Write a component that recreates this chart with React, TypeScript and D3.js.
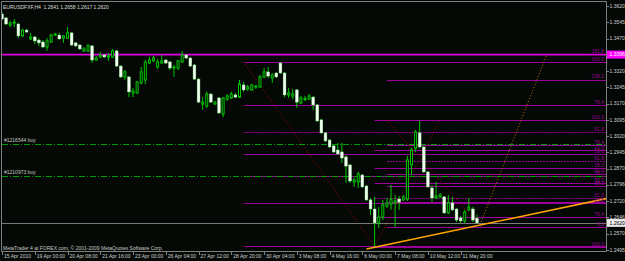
import React from 'react';
import * as d3 from 'd3';

const W = 625;
const H = 261;

const titleText = 'EURUSDFXF,H4  1.2641 1.2658 1.2617 1.2620';
const copyrightText = 'MetaTrader 4 at FOREX.com, © 2001-2009 MetaQuotes Software Corp.';

const opens = [1.3583,1.3565,1.3532,1.3542,1.3537,1.3482,1.3509,1.3468,1.3477,1.3463,1.3454,1.3431,1.3454,1.3486,1.3486,1.3472,1.3472,1.3496,1.3450,1.3440,1.3413,1.3413,1.3436,1.3371,1.3385,1.3394,1.3385,1.3385,1.3413,1.3343,1.3293,1.3293,1.3219,1.3219,1.3265,1.3279,1.3357,1.3367,1.3339,1.3357,1.3371,1.3362,1.3334,1.3334,1.3362,1.3394,1.3380,1.3348,1.3283,1.3168,1.3159,1.3214,1.3168,1.3196,1.3122,1.3191,1.3196,1.3210,1.3200,1.3256,1.3237,1.3233,1.3247,1.3247,1.3293,1.3316,1.3288,1.3311,1.3357,1.3311,1.3210,1.3205,1.3233,1.3173,1.3189,1.3191,1.3200,1.3164,1.3095,1.3035,1.3002,1.2975,1.2956,1.2947,1.2924,1.2887,1.2809,1.2809,1.2841,1.2790,1.2726,1.2684,1.2620,1.2647,1.2698,1.2707,1.2712,1.2730,1.2726,1.2730,1.2887,1.2965,1.3035,1.2970,1.2855,1.2781,1.2735,1.2740,1.2740,1.2666,1.2712,1.2684,1.2643,1.2629,1.2680,1.2684,1.2641];
const highs = [1.3592,1.3569,1.3551,1.3560,1.3542,1.3514,1.3514,1.3496,1.3482,1.3472,1.3463,1.3472,1.3491,1.3496,1.3496,1.3486,1.3523,1.3500,1.3454,1.3445,1.3431,1.3445,1.3440,1.3390,1.3408,1.3399,1.3403,1.3422,1.3417,1.3348,1.3325,1.3297,1.3242,1.3274,1.3339,1.3371,1.3385,1.3390,1.3376,1.3394,1.3376,1.3367,1.3348,1.3371,1.3413,1.3399,1.3385,1.3353,1.3288,1.3200,1.3224,1.3219,1.3182,1.3200,1.3200,1.3214,1.3224,1.3219,1.3279,1.3270,1.3256,1.3260,1.3256,1.3302,1.3334,1.3339,1.3311,1.3316,1.3362,1.3316,1.3242,1.3237,1.3237,1.3205,1.3205,1.3214,1.3205,1.3168,1.3099,1.3039,1.3007,1.2979,1.2989,1.2989,1.2933,1.2892,1.2827,1.2855,1.2846,1.2795,1.2735,1.2740,1.2693,1.2726,1.2735,1.2795,1.2749,1.2744,1.2749,1.2929,1.2965,1.3048,1.3090,1.2975,1.2859,1.2795,1.2809,1.2758,1.2744,1.2749,1.2740,1.2689,1.2652,1.2680,1.2735,1.2693,1.2658];
const lows = [1.3556,1.3532,1.3523,1.3523,1.3472,1.3477,1.3496,1.3463,1.3445,1.3436,1.3426,1.3413,1.3450,1.3482,1.3463,1.3450,1.3468,1.3436,1.3431,1.3417,1.3408,1.3408,1.3357,1.3367,1.3380,1.3380,1.3367,1.3380,1.3339,1.3288,1.3279,1.3200,1.3200,1.3214,1.3260,1.3260,1.3353,1.3362,1.3330,1.3353,1.3353,1.3325,1.3293,1.3325,1.3357,1.3376,1.3339,1.3279,1.3173,1.3141,1.3150,1.3173,1.3164,1.3122,1.3108,1.3182,1.3191,1.3196,1.3196,1.3224,1.3228,1.3228,1.3237,1.3242,1.3288,1.3288,1.3265,1.3288,1.3307,1.3200,1.3196,1.3191,1.3150,1.3168,1.3182,1.3187,1.3141,1.3085,1.3030,1.2993,1.2965,1.2942,1.2933,1.2896,1.2804,1.2804,1.2786,1.2781,1.2781,1.2721,1.2657,1.2509,1.2597,1.2633,1.2689,1.2680,1.2601,1.2680,1.2721,1.2721,1.2841,1.2947,1.2965,1.2850,1.2781,1.2716,1.2730,1.2735,1.2661,1.2661,1.2675,1.2624,1.2620,1.2620,1.2675,1.2624,1.2617];
const closes = [1.3560,1.3537,1.3542,1.3546,1.3482,1.3509,1.3500,1.3477,1.3459,1.3450,1.3431,1.3459,1.3486,1.3491,1.3468,1.3482,1.3496,1.3440,1.3436,1.3422,1.3422,1.3436,1.3371,1.3380,1.3394,1.3385,1.3390,1.3413,1.3343,1.3293,1.3316,1.3224,1.3228,1.3270,1.3316,1.3362,1.3371,1.3380,1.3362,1.3367,1.3357,1.3334,1.3339,1.3367,1.3394,1.3380,1.3343,1.3283,1.3177,1.3177,1.3214,1.3177,1.3177,1.3127,1.3196,1.3205,1.3214,1.3200,1.3260,1.3233,1.3247,1.3256,1.3251,1.3293,1.3316,1.3297,1.3302,1.3293,1.3311,1.3210,1.3219,1.3214,1.3177,1.3196,1.3193,1.3205,1.3164,1.3090,1.3035,1.2998,1.2970,1.2947,1.2938,1.2919,1.2882,1.2813,1.2818,1.2846,1.2786,1.2726,1.2684,1.2620,1.2647,1.2703,1.2712,1.2730,1.2721,1.2716,1.2740,1.2910,1.2956,1.3039,1.2970,1.2855,1.2786,1.2735,1.2744,1.2749,1.2666,1.2712,1.2680,1.2633,1.2629,1.2670,1.2693,1.2633,1.2620];

const priceTickLabels = ['1.3620','1.3545','1.3470','1.3320','1.3245','1.3170','1.3095','1.3020','1.2945','1.2870','1.2796','1.2720','1.2646','1.2570','1.2495'];

const dateLabels = ['15 Apr 2010','19 Apr 00:00','20 Apr 08:00','21 Apr 16:00','23 Apr 00:00','26 Apr 04:00','27 Apr 12:00','28 Apr 20:00','30 Apr 04:00','3 May 08:00','4 May 16:00','6 May 00:00','7 May 08:00','10 May 12:00','11 May 20:00'];
const dateBars = [0,8,16,24,32,40,48,56,64,72,80,88,96,104,112];

const retraceLevels = [0, 23.6, 38.2, 50, 61.8, 76.4, 100];
const expansionLevels = [0, 23.6, 38.2, 50, 61.8, 76.4, 100, 138.2, 161.8];
const fiboABars = [59, 91];
const fiboAPrices = [1.3362, 1.2512];
const fiboBBars = [91, 107];
const fiboBPrices = [1.2510, 1.3095];
const fiboCBars = [94, 117];
const fiboCPrices = [1.3093, 1.2601];

const hLinePrice = 1.3396;
const bidPrice = 1.2620;
const orderPrices = [1.2984, 1.2835];
const orderLabels = ['#1216544 buy', '#1210973 buy'];

const trendBars = [89, 115];
const trendPrices = [1.2500, 1.2603];
const projBars = [117, 133];
const projPrices = [1.2624, 1.3394];

const PL = 2, PR = 606, PT = 2, PB = 251;
const FONT = 'Liberation Sans, Arial, sans-serif';

export default function App() {
  const xS = d3.scaleLinear().domain([0, 116]).range([2, 477]);
  const yS = d3.scaleLinear().domain([1.2495, 1.3620]).range([250, 6]);

  const green = '#00c800';
  const fiboColor = '#9a009a';
  const fibos = [
    { bars: fiboABars, prices: fiboAPrices, levels: retraceLevels },
    { bars: fiboBBars, prices: fiboBPrices, levels: retraceLevels },
    { bars: fiboCBars, prices: fiboCPrices, levels: expansionLevels },
  ];

  const trendFn = d3.scaleLinear().domain(trendBars).range(trendPrices);
  const rightBar = xS.invert(PR);

  // level labels: where two coincide, the longer one covers the shorter (as drawn on top in the original)
  const allLabels: { y: number; t: string }[] = [];
  fibos.forEach((f) => {
    f.levels.forEach((lv) => {
      const p = f.prices[1] + (lv / 100) * (f.prices[0] - f.prices[1]);
      allLabels.push({ y: yS(p), t: lv.toFixed(1) });
    });
  });
  const shownLabels = allLabels.filter((a, i) =>
    !allLabels.some((b, j) => j !== i && Math.abs(b.y - a.y) < 1.6 &&
      (b.t.length > a.t.length || (b.t.length === a.t.length && j < i))));

  return (
    <svg width={W} height={H} style={{ position: 'fixed', left: 0, top: 0, background: '#050905' }}>
      <defs>
        <clipPath id="plot">
          <rect x={PL} y={PT} width={PR - PL} height={PB - PT} />
        </clipPath>
      </defs>
      <rect x={0} y={0} width={W} height={H} fill="#050905" />
      <g clipPath="url(#plot)">
        {fibos.map((f, fi) => (
          <g key={'f' + fi}>
            {f.levels.map((lv, li) => {
              const p = f.prices[1] + (lv / 100) * (f.prices[0] - f.prices[1]);
              const y = Math.round(yS(p)) + 0.5;
              return (
                <line key={li} x1={xS(f.bars[0])} x2={PR} y1={y} y2={y}
                  stroke={fiboColor} strokeWidth={1}
                  strokeDasharray={lv === 61.8 ? '2 1' : undefined} />
              );
            })}
            <line x1={xS(f.bars[0])} y1={yS(f.prices[0])} x2={xS(f.bars[1])} y2={yS(f.prices[1])}
              stroke="#a00000" strokeWidth={1} strokeDasharray="1 2" />
          </g>
        ))}
        {orderPrices.map((p, i) => (
          <line key={'o' + i} x1={PL} x2={PR} y1={Math.round(yS(p)) + 0.5} y2={Math.round(yS(p)) + 0.5}
            stroke="#00a000" strokeWidth={1} strokeDasharray="6 2 1 2" />
        ))}
        <line x1={PL} x2={PR} y1={yS(hLinePrice)} y2={yS(hLinePrice)} stroke="#e000e0" strokeWidth={1.6} />
        <line x1={PL} x2={PR} y1={Math.round(yS(bidPrice)) + 0.5} y2={Math.round(yS(bidPrice)) + 0.5} stroke="#7a7a7a" strokeWidth={1} />
        {opens.map((o, i) => {
          const c = closes[i];
          const x = xS(i);
          const yH = yS(highs[i]);
          const yL = yS(lows[i]);
          const yO = yS(o);
          const yC = yS(c);
          const top = Math.min(yO, yC);
          const h = Math.max(1, Math.abs(yO - yC));
          const bull = c >= o;
          return (
            <g key={'c' + i}>
              <line x1={x} x2={x} y1={yH} y2={yL} stroke={green} strokeWidth={1} />
              {bull ? (
                <rect x={x - 1} y={top} width={2} height={h} fill="#050905" stroke={green} strokeWidth={1} />
              ) : (
                <rect x={x - 1.4} y={top} width={2.8} height={h} fill="#f2fff2" stroke="#9ef09e" strokeWidth={0.4} />
              )}
            </g>
          );
        })}
        <line x1={xS(trendBars[0])} y1={yS(trendPrices[0])} x2={PR} y2={yS(trendFn(rightBar))}
          stroke="#ffa500" strokeWidth={1.6} />
        <line x1={xS(projBars[0])} y1={yS(projPrices[0])} x2={xS(projBars[1])} y2={yS(projPrices[1])}
          stroke="#c87000" strokeWidth={1} strokeDasharray="1 2" />
        {shownLabels.map((l, i) => (
          <text key={'fl' + i} x={PR - 2} y={l.y - 1.2} fill={fiboColor} fontSize={5} fontFamily={FONT} textAnchor="end">
            {l.t}
          </text>
        ))}
        {orderPrices.map((p, i) => (
          <text key={'ol' + i} x={4} y={yS(p) - 2} fill="#c8c8c8" fontSize={5} fontFamily={FONT}>{orderLabels[i]}</text>
        ))}
        <text x={3} y={8.5} fill="#dcdcdc" fontSize={5} fontFamily={FONT} style={{ whiteSpace: 'pre' }}>{titleText}</text>
        <text x={3} y={249.5} fill="#c8c8c8" fontSize={5} fontFamily={FONT}>{copyrightText}</text>
      </g>
      <line x1={1.5} x2={PR + 0.5} y1={1.5} y2={1.5} stroke="#808080" strokeWidth={1} />
      <line x1={1.5} x2={1.5} y1={1.5} y2={PB + 0.5} stroke="#808080" strokeWidth={1} />
      <line x1={PR + 0.5} x2={PR + 0.5} y1={1.5} y2={PB + 0.5} stroke="#808080" strokeWidth={1} />
      <line x1={1.5} x2={PR + 0.5} y1={PB + 0.5} y2={PB + 0.5} stroke="#808080" strokeWidth={1} />
      {priceTickLabels.map((t, i) => {
        const y = yS(+t);
        return (
          <g key={'pt' + i}>
            <line x1={PR} x2={PR + 3} y1={Math.round(y) + 0.5} y2={Math.round(y) + 0.5} stroke="#808080" />
            <text x={PR + 3.5} y={y} dy="0.35em" fill="#d0d0d0" fontSize={5} fontFamily={FONT}>{t}</text>
          </g>
        );
      })}
      <rect x={PR + 1} y={yS(hLinePrice) - 4} width={W - PR - 1} height={8} fill="#ff00ff" />
      <text x={PR + 3.5} y={yS(hLinePrice)} dy="0.35em" fill="#ffffff" fontSize={5} fontFamily={FONT}>{hLinePrice.toFixed(4)}</text>
      <rect x={PR + 1} y={yS(bidPrice) - 4} width={W - PR - 1} height={8} fill="#e8e8e8" />
      <text x={PR + 3.5} y={yS(bidPrice)} dy="0.35em" fill="#000000" fontSize={5} fontFamily={FONT}>{bidPrice.toFixed(4)}</text>
      {dateLabels.map((d, i) => {
        const x = xS(dateBars[i]);
        return (
          <g key={'d' + i}>
            <line x1={Math.round(x) + 0.5} x2={Math.round(x) + 0.5} y1={PB} y2={PB + 4} stroke="#808080" />
            <text x={x + 2} y={258} fill="#d0d0d0" fontSize={5} fontFamily={FONT}>{d}</text>
          </g>
        );
      })}
    </svg>
  );
}
